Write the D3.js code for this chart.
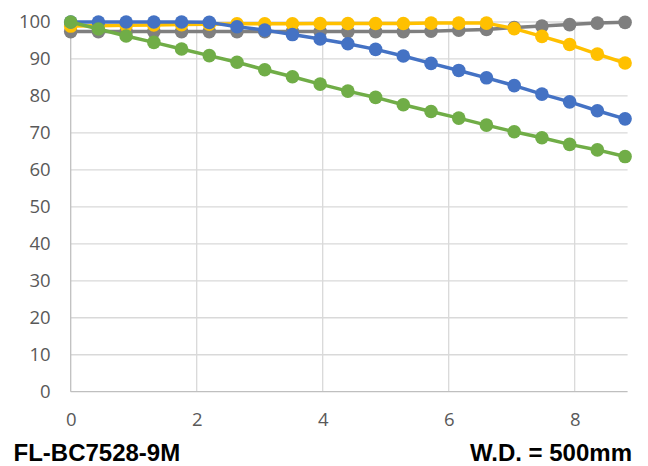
<!DOCTYPE html>
<html>
<head>
<meta charset="utf-8">
<script src="https://cdn.jsdelivr.net/npm/d3@7"></script>
<style>
  body { margin: 0; background: #fff; }
  svg { display: block; }
</style>
</head>
<body>
<div id="container"></div>
<script>
// data
var xValues = [0, 0.44, 0.88, 1.32, 1.76, 2.2, 2.64, 3.08, 3.52, 3.96, 4.4,
               4.84, 5.28, 5.72, 6.16, 6.6, 7.04, 7.48, 7.92, 8.36, 8.8];
var grayValues = [97.4, 97.4, 97.4, 97.4, 97.4, 97.4, 97.4, 97.4, 97.4, 97.4, 97.4,
                  97.4, 97.4, 97.5, 97.8, 98.0, 98.5, 98.9, 99.3, 99.7, 99.9];
var yellowValues = [98.9, 99.0, 99.1, 99.2, 99.3, 99.4, 99.5, 99.5, 99.5, 99.6, 99.6,
                    99.6, 99.6, 99.7, 99.7, 99.7, 98.2, 96.1, 93.9, 91.3, 88.9];
var blueValues = [100, 100, 100, 100, 100, 99.9, 98.7, 97.8, 96.6, 95.4, 94.1,
                  92.6, 90.8, 88.8, 86.9, 84.9, 82.8, 80.5, 78.4, 76.0, 73.8];
var greenValues = [100, 98.1, 96.2, 94.5, 92.7, 90.9, 89.1, 87.1, 85.2, 83.2, 81.3,
                   79.6, 77.6, 75.8, 74.0, 72.1, 70.3, 68.7, 66.9, 65.4, 63.6];
var xTicks = [0, 2, 4, 6, 8];
var yTicks = [0, 10, 20, 30, 40, 50, 60, 70, 80, 90, 100];
var titleLeft = "FL-BC7528-9M";
var titleRight = "W.D. = 500mm";

// drawn bottom -> top, same order as the reference
var series = [
  { name: "gray", color: "#7F7F7F", values: grayValues },
  { name: "yellow", color: "#FFC000", values: yellowValues },
  { name: "blue", color: "#4472C4", values: blueValues },
  { name: "green", color: "#70AD47", values: greenValues }
];

// plot area (note: "top" is taken by window.top, so prefix everything)
var width = 648, height = 466;
var plotLeft = 70.7, plotRight = 627.6, plotTop = 22, plotBottom = 391.7;

var svg = d3.select("div#container").append("svg")
  .attr("width", width)
  .attr("height", height);

var x = d3.scaleLinear().domain([0, 8.84]).range([plotLeft, plotRight]);
var y = d3.scaleLinear().domain([0, 100]).range([plotBottom, plotTop]);

// gridlines
svg.append("g").attr("class", "grid")
  .selectAll("line")
  .data(yTicks.filter(function(d) { return d > 0; }))
  .enter().append("line")
    .attr("x1", plotLeft).attr("x2", plotRight)
    .attr("y1", function(d) { return y(d); })
    .attr("y2", function(d) { return y(d); })
    .attr("stroke", "#D9D9D9")
    .attr("stroke-width", 1.3);

svg.append("g").attr("class", "grid")
  .selectAll("line")
  .data(xTicks.filter(function(d) { return d > 0; }))
  .enter().append("line")
    .attr("x1", function(d) { return x(d); })
    .attr("x2", function(d) { return x(d); })
    .attr("y1", plotTop).attr("y2", plotBottom)
    .attr("stroke", "#D9D9D9")
    .attr("stroke-width", 1.3);

// axis lines
svg.append("line")
  .attr("x1", plotLeft).attr("x2", plotLeft).attr("y1", plotTop).attr("y2", plotBottom)
  .attr("stroke", "#BFBFBF").attr("stroke-width", 1.3);
svg.append("line")
  .attr("x1", plotLeft).attr("x2", plotRight).attr("y1", plotBottom).attr("y2", plotBottom)
  .attr("stroke", "#BFBFBF").attr("stroke-width", 1.3);

// axis labels through d3 axes, domain path and ticks hidden
var yAxis = svg.append("g")
  .attr("transform", "translate(" + plotLeft + ",0)")
  .call(d3.axisLeft(y).tickValues(yTicks).tickSize(0).tickPadding(20));
var xAxis = svg.append("g")
  .attr("transform", "translate(0," + plotBottom + ")")
  .call(d3.axisBottom(x).tickValues(xTicks).tickSize(0).tickPadding(21));

[yAxis, xAxis].forEach(function(g) {
  g.select(".domain").remove();
  g.selectAll("text")
    .style("font-family", "'Open Sans', sans-serif")
    .style("font-size", "18.5px")
    .attr("fill", "#595959");
});

// series lines and markers
var line = d3.line()
  .x(function(d, i) { return x(xValues[i]); })
  .y(function(d) { return y(d); });

series.forEach(function(s) {
  var g = svg.append("g").attr("class", "series " + s.name);
  g.append("path")
    .datum(s.values)
    .attr("d", line)
    .attr("fill", "none")
    .attr("stroke", s.color)
    .attr("stroke-width", 3.5)
    .attr("stroke-linejoin", "round");
  g.selectAll("circle")
    .data(s.values)
    .enter().append("circle")
      .attr("cx", function(d, i) { return x(xValues[i]); })
      .attr("cy", function(d) { return y(d); })
      .attr("r", 6.8)
      .attr("fill", s.color);
});

// captions under the chart
svg.append("text")
  .attr("x", 13.5).attr("y", 461)
  .style("font-family", "'Liberation Sans', Arial, sans-serif")
  .style("font-weight", "bold")
  .style("font-size", "24px")
  .attr("fill", "#000")
  .text(titleLeft);
svg.append("text")
  .attr("x", 632).attr("y", 461)
  .attr("text-anchor", "end")
  .style("font-family", "'Liberation Sans', Arial, sans-serif")
  .style("font-weight", "bold")
  .style("font-size", "24px")
  .attr("fill", "#000")
  .text(titleRight);
</script>
</body>
</html>
